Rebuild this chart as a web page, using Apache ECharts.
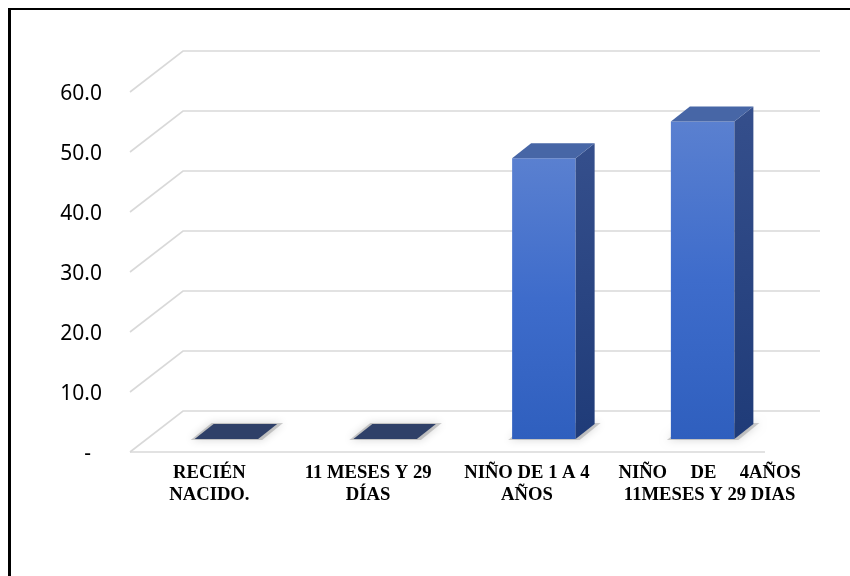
<!DOCTYPE html>
<html>
<head>
<meta charset="utf-8">
<script src="https://cdn.jsdelivr.net/npm/echarts@6/dist/echarts.min.js"></script>
<style>
html,body{margin:0;padding:0;background:#fff;overflow:hidden;}
#wrap{position:relative;width:850px;height:576px;overflow:hidden;}
#chart{position:absolute;left:0;top:0;width:850px;height:576px;}
#frame{position:absolute;left:8px;top:8px;width:900px;height:700px;border-left:3px solid #000;border-top:2px solid #000;pointer-events:none;}
</style>
</head>
<body>
<div id="wrap"><div id="chart"></div><div id="frame"></div></div>
<script>
// ---- data ----
const categories = [
  'RECIÉN\nNACIDO.',
  '11 MESES Y 29\nDÍAS',
  'NIÑO DE 1 A 4\nAÑOS',
  'NIÑO     DE     4AÑOS\n11MESES Y 29 DIAS'
];
const values = [0, 0, 46.8, 52.9];
const yTicks = [0, 10, 20, 30, 40, 50, 60];

// ---- style constants ----
const WALL_DX = 53, WALL_DY = -41;   // depth of floor / side wall
const BAR_OX = 17, BAR_OY = -13;     // bar placement depth
const BAR_DX = 19, BAR_DY = -15;     // bar depth
const GRID_COLOR = '#d9d9d9';

const chart = echarts.init(document.getElementById('chart'), null, {renderer: 'canvas'});

function gridRender(params, api) {
  const v = api.value(0);
  const cs = params.coordSys;
  const y = api.coord([0, v])[1];
  const x0 = cs.x;
  const children = [{
    type: 'polyline',
    shape: {points: [[x0, y], [x0 + WALL_DX, y + WALL_DY], [x0 + WALL_DX + cs.width + 2, y + WALL_DY]]},
    style: {stroke: GRID_COLOR, lineWidth: 1.6, fill: null}
  }];
  if (v === 0) {
    children.push({
      type: 'line',
      shape: {x1: x0, y1: y, x2: x0 + cs.width, y2: y},
      style: {stroke: GRID_COLOR, lineWidth: 1.6}
    });
  }
  return {type: 'group', children: children};
}

function barRender(params, api) {
  const i = api.value(0);
  const v = api.value(1);
  const top = api.coord([i, v]);
  const base = api.coord([i, 0]);
  const bw = api.size([1, 0])[0] * 0.4;
  const x1 = top[0] + BAR_OX - bw / 2;
  const x2 = x1 + bw;
  const yT = top[1] + BAR_OY;
  const yB = base[1] + BAR_OY;
  const children = [];
  // soft floor shadow
  children.push({
    type: 'polygon',
    shape: {points: [[x1 - 4, yB + 1], [x2 + 4, yB + 1], [x2 + BAR_DX + 6, yB + BAR_DY - 1], [x1 + BAR_DX - 2, yB + BAR_DY - 1]]},
    style: {fill: 'rgba(120,120,120,0.35)', shadowBlur: 9, shadowColor: 'rgba(0,0,0,0.45)'}
  });
  if (yB - yT > 1) {
    children.push({
      type: 'polygon',
      shape: {points: [[x1, yT], [x2, yT], [x2, yB], [x1, yB]]},
      style: {fill: new echarts.graphic.LinearGradient(0, 0, 0, 1, [
        {offset: 0, color: '#5a80d0'}, {offset: 0.5, color: '#3e6ccb'}, {offset: 1, color: '#2f5fbe'}])}
    });
    children.push({
      type: 'polygon',
      shape: {points: [[x2, yT], [x2 + BAR_DX, yT + BAR_DY], [x2 + BAR_DX, yB + BAR_DY], [x2, yB]]},
      style: {fill: new echarts.graphic.LinearGradient(0, 0, 0, 1, [
        {offset: 0, color: '#354f8c'}, {offset: 1, color: '#1f3b78'}])}
    });
    children.push({
      type: 'polygon',
      shape: {points: [[x1, yT], [x1 + BAR_DX, yT + BAR_DY], [x2 + BAR_DX, yT + BAR_DY], [x2, yT]]},
      style: {fill: '#4766a6'}
    });
  } else {
    children.push({
      type: 'polygon',
      shape: {points: [[x1, yT], [x1 + BAR_DX, yT + BAR_DY], [x2 + BAR_DX, yT + BAR_DY], [x2, yT]]},
      style: {fill: '#2f4068'}
    });
  }
  return {type: 'group', children: children};
}

const option = {
  backgroundColor: '#fff',
  animation: false,
  grid: {left: 130, right: 85, top: 92, bottom: 124, containLabel: false},
  xAxis: {
    type: 'category',
    data: categories,
    boundaryGap: true,
    axisLine: {show: false},
    axisTick: {show: false},
    axisLabel: {
      interval: 0,
      margin: 10,
      color: '#000',
      fontFamily: 'Liberation Serif',
      fontWeight: 'bold',
      fontSize: 18.67,
      lineHeight: 22,
      formatter: function (val, idx) {
        return idx === 3 ? '{shift|' + val.split('\n').join('}\n{shift|') + '}' : val;
      },
      rich: {
        shift: {
          fontFamily: 'Liberation Serif', fontWeight: 'bold', fontSize: 18.67, lineHeight: 22,
          color: '#000', padding: [0, 0, 0, 48], align: 'center'
        }
      }
    }
  },
  yAxis: {
    type: 'value',
    min: 0, max: 60, interval: 10,
    axisLine: {show: false},
    axisTick: {show: false},
    splitLine: {show: false},
    axisLabel: {
      margin: 28,
      color: '#000',
      fontFamily: 'Noto Sans',
      fontSize: 21,
      formatter: function (v) { return v === 0 ? '{d|-}' : '{n|' + v.toFixed(1) + '}'; },
      rich: {
        n: {fontFamily: 'Noto Sans', fontSize: 21, color: '#000', padding: [5, 0, 0, 0]},
        d: {fontFamily: 'Noto Sans', fontSize: 21, color: '#000', padding: [5, 11, 0, 0]}
      }
    }
  },
  series: [
    {
      type: 'custom',
      renderItem: gridRender,
      data: yTicks.map(v => [v]),
      encode: {y: 0},
      silent: true,
      z: 1
    },
    {
      type: 'custom',
      renderItem: barRender,
      data: values.map((v, i) => [i, v]),
      encode: {x: 0, y: 1},
      z: 2
    }
  ]
};
chart.setOption(option);
</script>
</body>
</html>
